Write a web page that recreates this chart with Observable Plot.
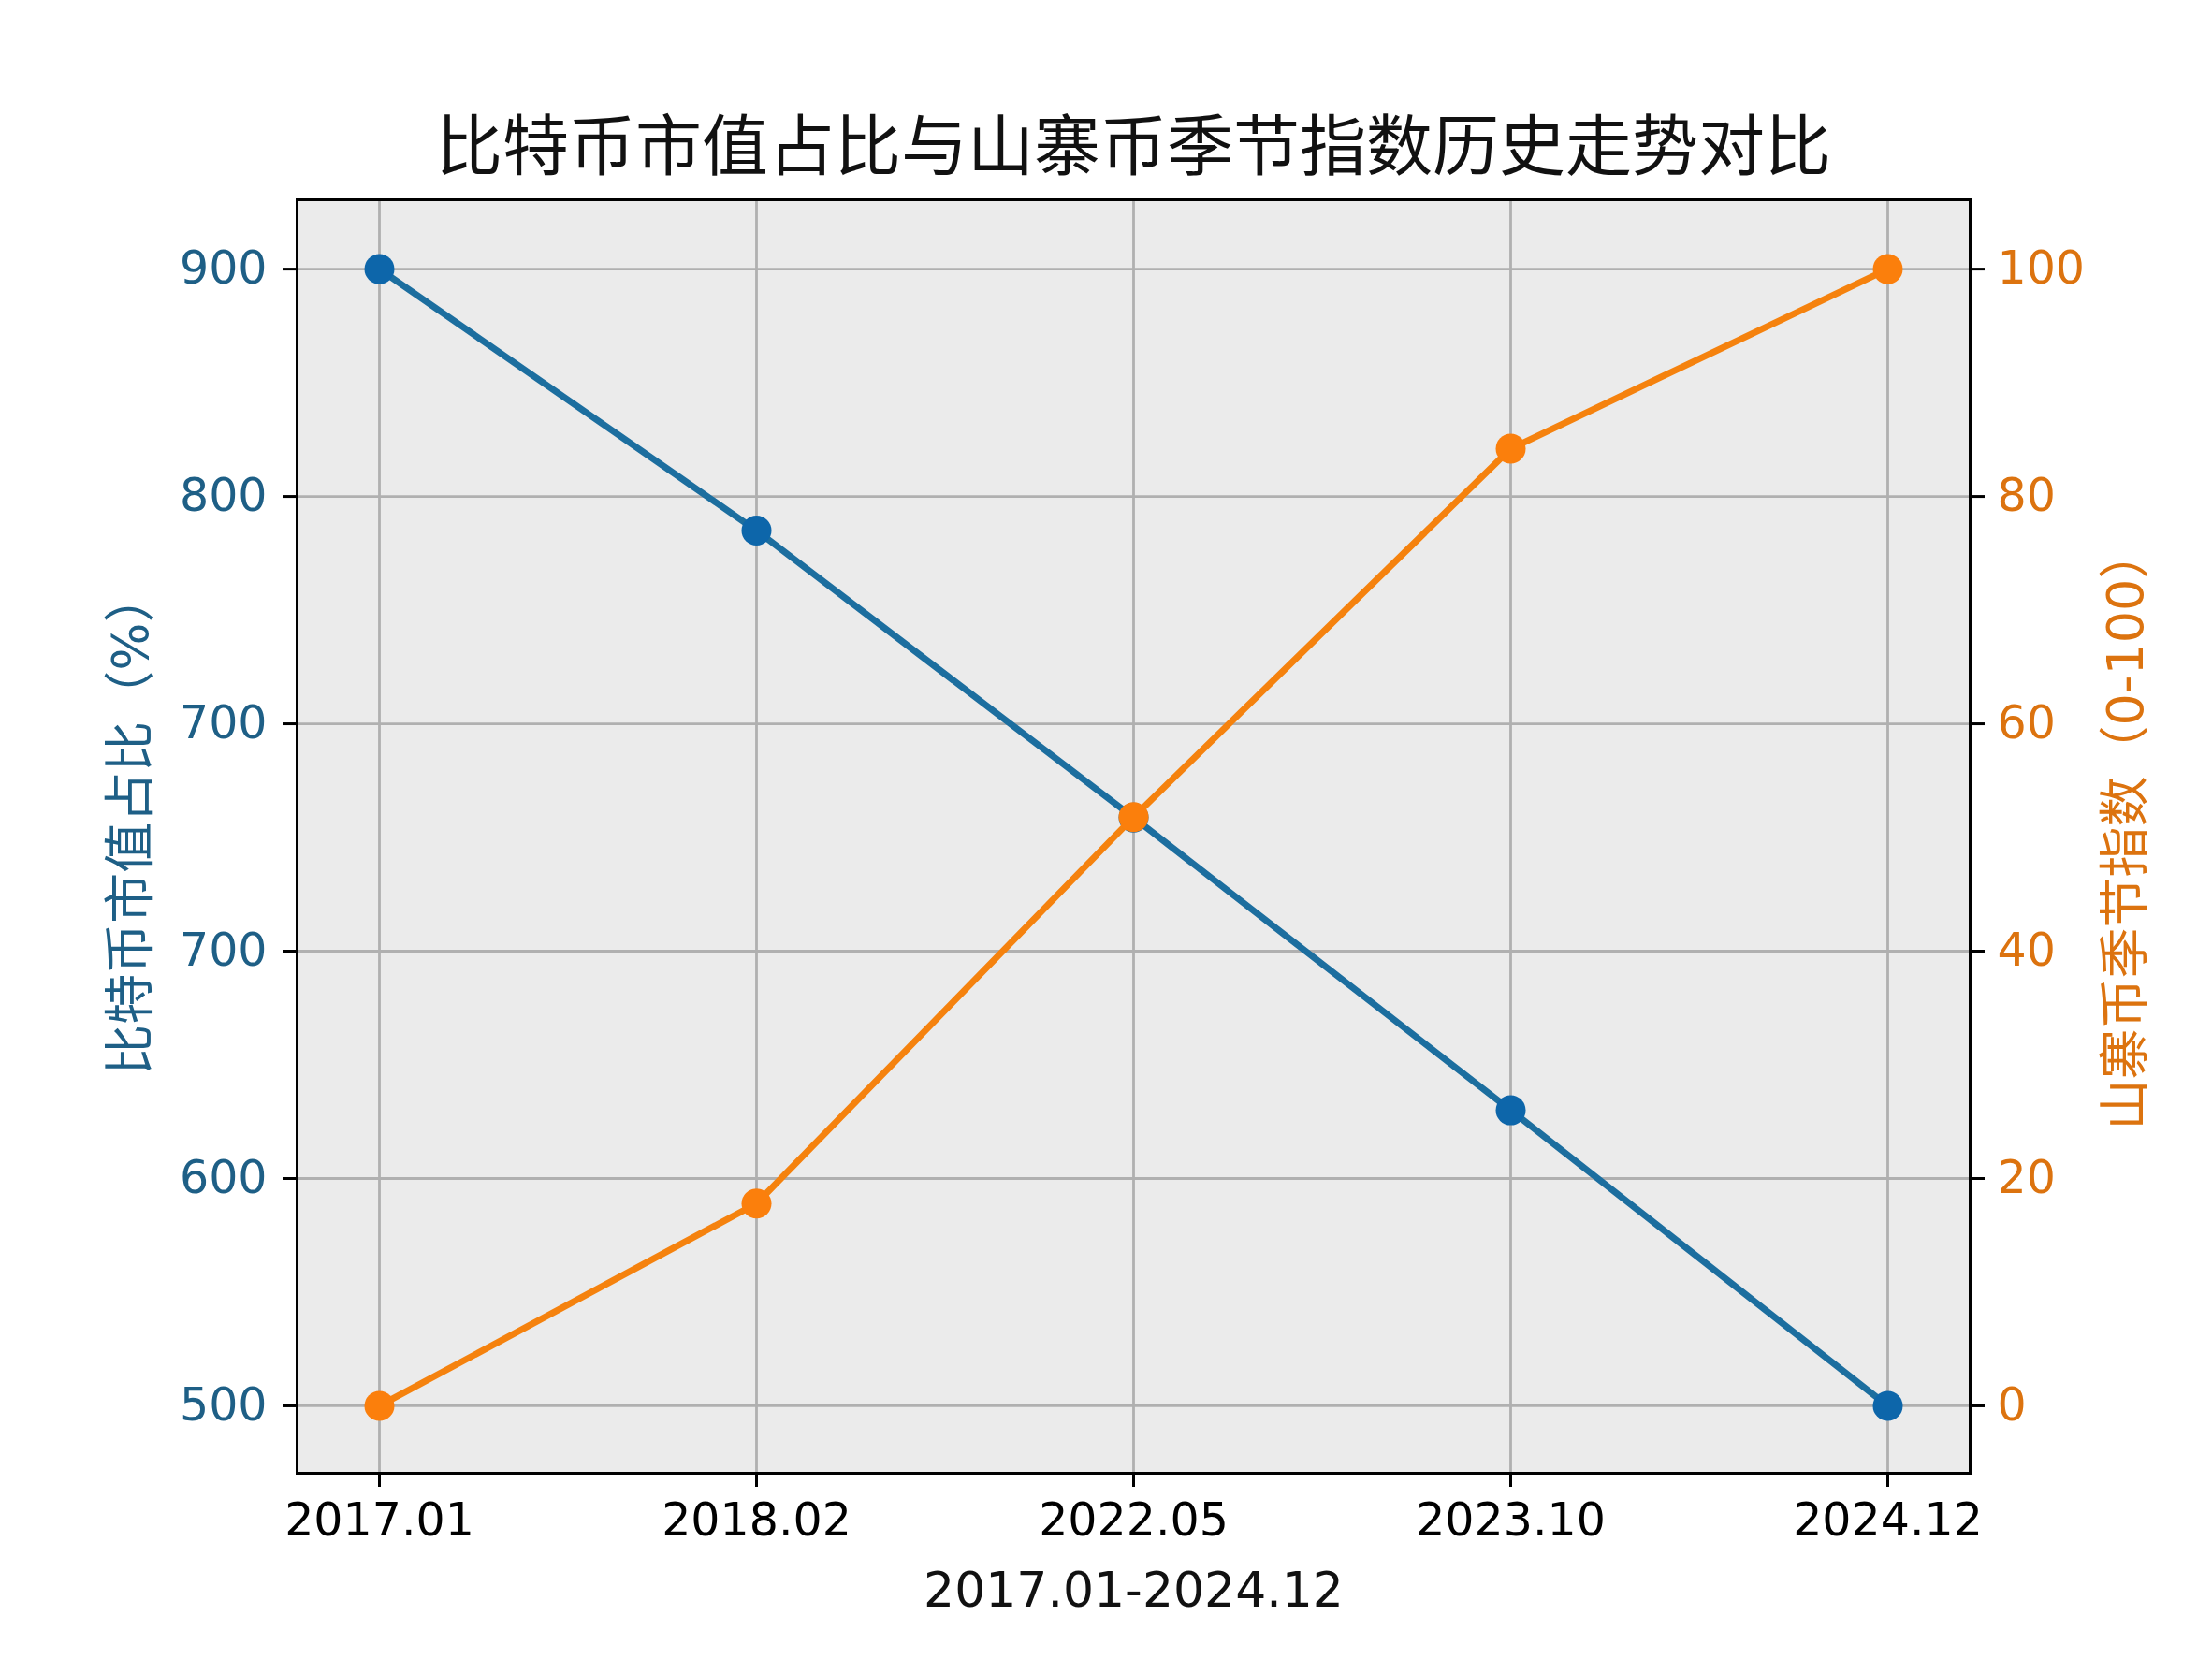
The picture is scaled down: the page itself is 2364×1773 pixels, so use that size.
<!DOCTYPE html>
<html>
<head>
<meta charset="utf-8">
<script src="https://cdn.jsdelivr.net/npm/d3@7"></script>
<script src="https://cdn.jsdelivr.net/npm/@observablehq/plot@0.6"></script>
<style>
  html, body { margin: 0; padding: 0; background: #ffffff; }
</style>
</head>
<body>
<div id="chart"></div>
<script>
// ---- data ----
const dates = ["2017.01", "2018.02", "2022.05", "2023.10", "2024.12"];
const btcShare = [900, 808, 707, 604, 500];        // left axis (as drawn)
const altIndex = [0, 17.8, 51.8, 84.2, 100];       // right axis 0-100
const rightTicks = [0, 20, 40, 60, 80, 100];
const leftTickLabels = ["500", "600", "700", "700", "800", "900"]; // labels shown at rightTicks positions
const leftMin = 500, leftMax = 900;

const title = "比特币市值占比与山寨币季节指数历史走势对比";
const xLabel = "2017.01-2024.12";
const leftLabel = "比特币市值占比（%）";
const rightLabel = "山寨币季节指数（0-100）";

const blueLine = "#1c6e9f";
const blueDot = "#0d66aa";
const blueText = "#1e5f86";
const orangeLine = "#f5820e";
const orangeDot = "#fb7f0c";
const orangeText = "#dc730f";

// map left-axis values onto the shared (right) 0-100 scale
const toRight = v => (v - leftMin) / (leftMax - leftMin) * 100;

const btc = dates.map((d, i) => ({date: d, v: toRight(btcShare[i])}));
const alt = dates.map((d, i) => ({date: d, v: altIndex[i]}));

const W = 2364, H = 1773;
const chart = Plot.plot({
  width: W,
  height: H,
  marginLeft: 317,
  marginRight: 259,
  marginTop: 213,
  marginBottom: 199,
  style: {
    fontFamily: "'DejaVu Sans', 'Noto Sans CJK SC', sans-serif",
    background: "#ffffff",
    overflow: "visible"
  },
  x: {type: "point", domain: dates, padding: 0.216, label: null},
  y: {domain: [-5.93, 106.1], label: null},
  marks: [
    Plot.frame({fill: "#ebebeb", stroke: null}),
    Plot.gridX(dates, {stroke: "#b0b0b0", strokeOpacity: 1, strokeWidth: 2.8}),
    Plot.gridY(rightTicks, {stroke: "#b0b0b0", strokeOpacity: 1, strokeWidth: 2.8}),
    Plot.frame({stroke: "#000000", strokeWidth: 3}),
    Plot.axisX(dates, {
      tickSize: 15, tickPadding: 17, strokeWidth: 3, stroke: "#000",
      fill: "#000", fontSize: 49, label: null
    }),
    Plot.axisY(rightTicks, {
      anchor: "left", tickSize: 15, tickPadding: 17, strokeWidth: 3, stroke: "#000",
      fill: blueText, fontSize: 49, label: null,
      tickFormat: (d) => leftTickLabels[rightTicks.indexOf(d)]
    }),
    Plot.axisY(rightTicks, {
      anchor: "right", tickSize: 15, tickPadding: 14, strokeWidth: 3, stroke: "#000",
      fill: orangeText, fontSize: 49, label: null
    }),
    Plot.line(btc, {x: "date", y: "v", stroke: blueLine, strokeWidth: 7}),
    Plot.dot(btc, {x: "date", y: "v", r: 16, fill: blueDot, stroke: null}),
    Plot.line(alt, {x: "date", y: "v", stroke: orangeLine, strokeWidth: 7}),
    Plot.dot(alt, {x: "date", y: "v", r: 16, fill: orangeDot, stroke: null}),
    Plot.text([title], {
      text: d => d, frameAnchor: "top", dy: -55, lineAnchor: "middle", textAnchor: "middle",
      fontSize: 71, fill: "#111", fontFamily: "'Noto Sans CJK SC', sans-serif"
    }),
    Plot.text([xLabel], {
      text: d => d, frameAnchor: "bottom", dy: 126, lineAnchor: "middle", textAnchor: "middle",
      fontSize: 52, fill: "#111"
    }),
    Plot.text([leftLabel], {
      text: d => d, frameAnchor: "left", dx: -177, dy: -14, rotate: -90, lineAnchor: "middle", textAnchor: "middle",
      fontSize: 54, fill: blueText
    }),
    Plot.text([rightLabel], {
      text: d => d, frameAnchor: "right", dx: 167, dy: -8, rotate: -90, lineAnchor: "middle", textAnchor: "middle",
      fontSize: 54, fill: orangeText
    })
  ]
});
document.getElementById("chart").appendChild(chart);
</script>
</body>
</html>
